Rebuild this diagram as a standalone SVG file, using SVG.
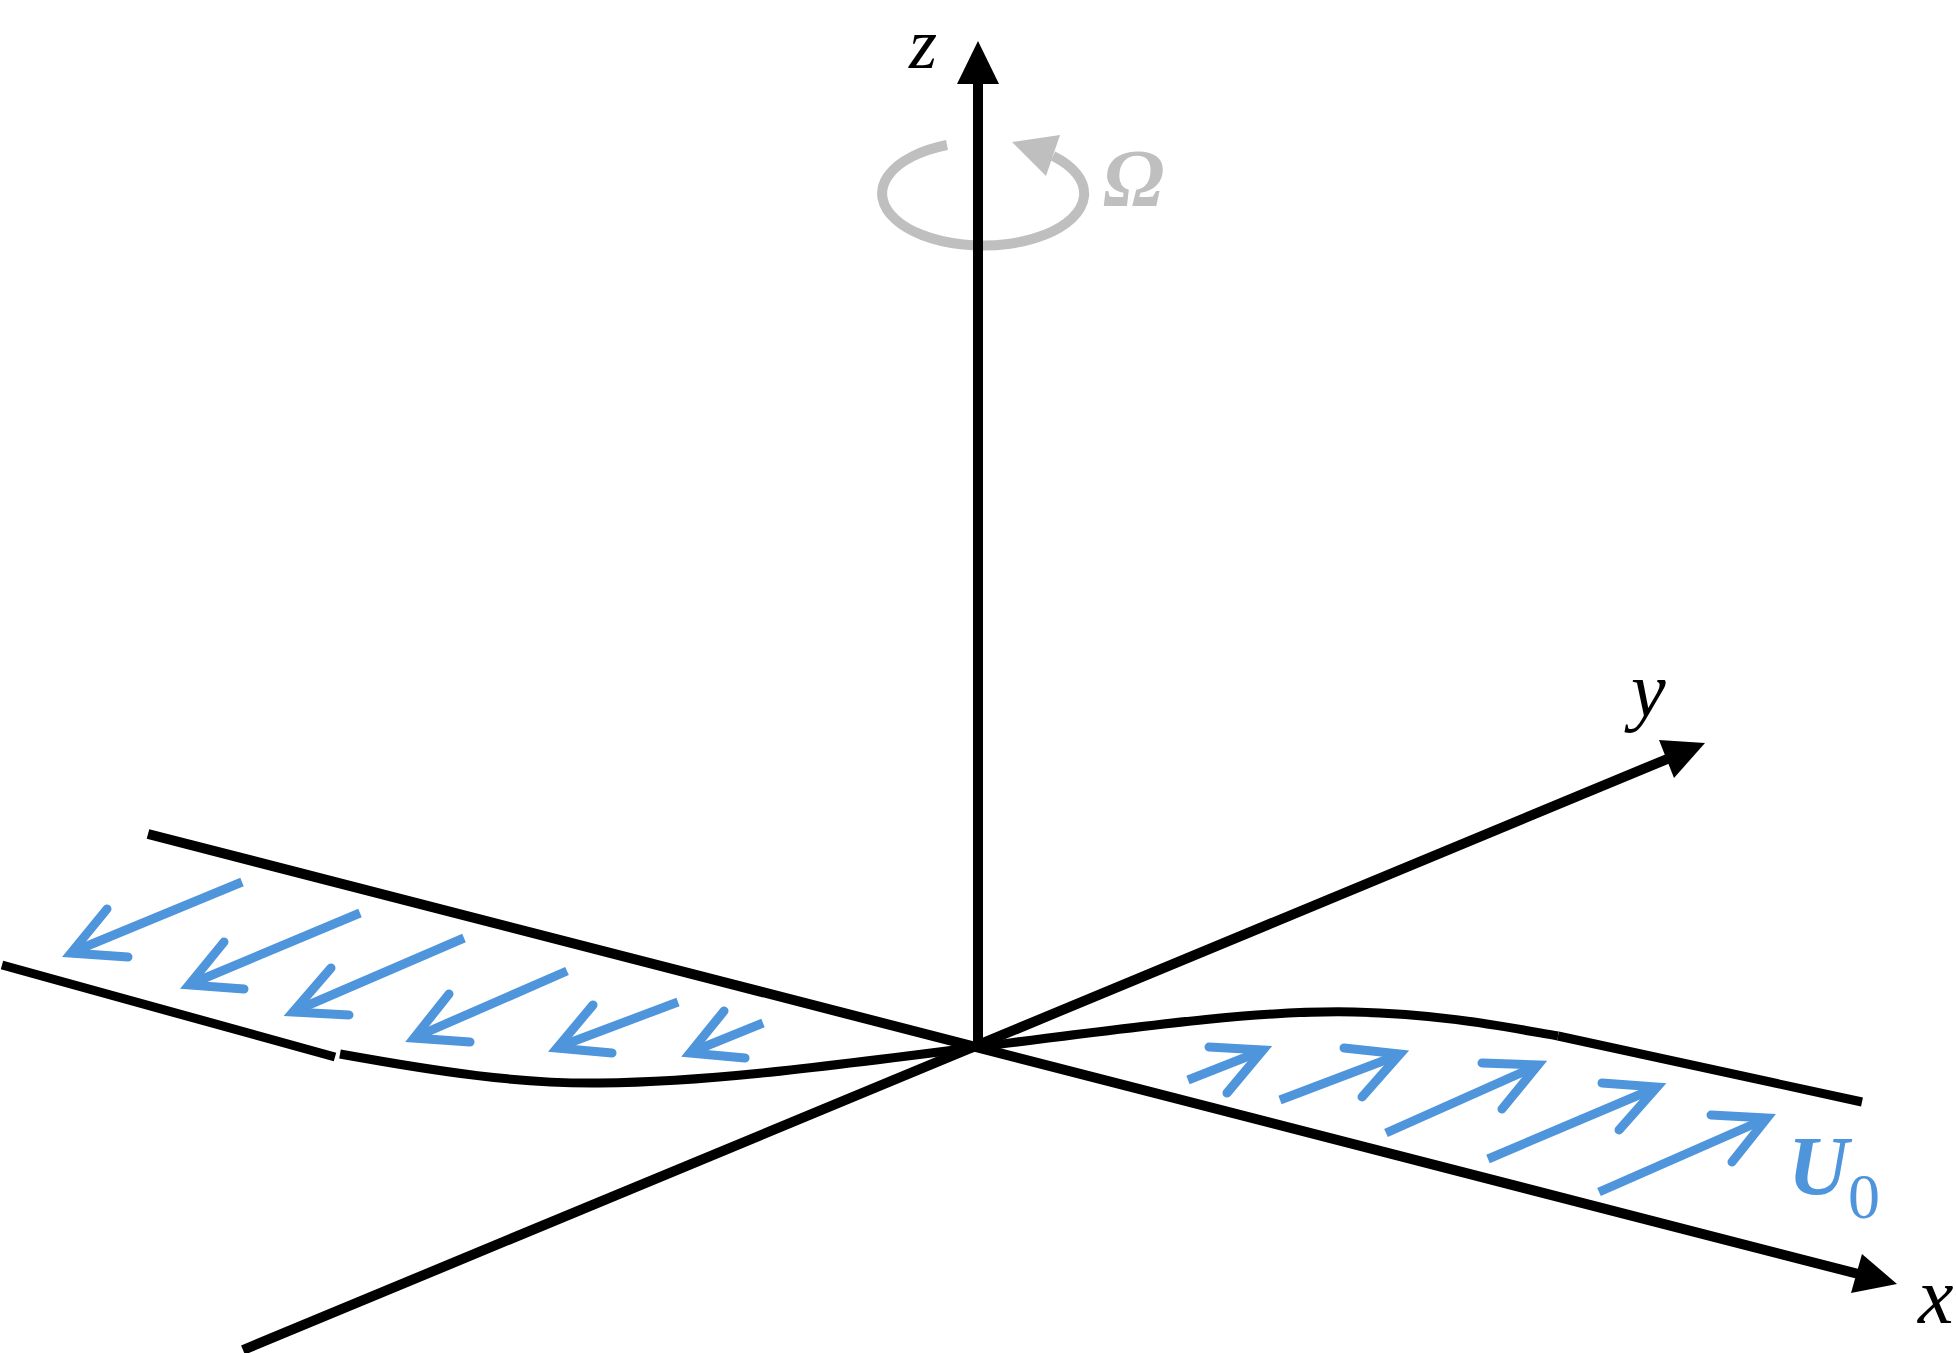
<svg xmlns="http://www.w3.org/2000/svg" width="1956" height="1353" viewBox="0 0 1956 1353">
<style>
.ax{stroke:#000;stroke-width:10;fill:none;stroke-linecap:butt}
.cv{stroke:#000;stroke-width:9;fill:none;stroke-linecap:butt}
.sh{stroke:#4f95db;stroke-width:9;fill:none;stroke-linecap:butt}
.hd{stroke:#4f95db;stroke-width:9;fill:none;stroke-linecap:round;stroke-linejoin:miter;stroke-miterlimit:10}
.lbl{font-family:"Liberation Serif","Times New Roman",serif;font-style:italic}
</style>
<rect width="1956" height="1353" fill="#fff"/>
<g id="rotation">
<path d="M947,145 A101 52 0 1 0 1053,156" fill="none" stroke="#bfbfbf" stroke-width="10"/>
<polygon points="1012,142 1060,135 1046,176" fill="#bfbfbf"/>
<text class="lbl" x="1103" y="206" font-size="82" font-weight="bold" fill="#bfbfbf">Ω</text>
</g>
<g id="connectors">
<line class="ax" x1="978" y1="1047" x2="978" y2="80"/>
<polygon points="978,41 957,84 999,84" fill="#000"/>
<line class="ax" x1="243" y1="1350" x2="1672" y2="757"/>
<polygon points="1705,743 1659,740 1674,778" fill="#000"/>
<line class="ax" x1="148" y1="834" x2="1870" y2="1277"/>
<polygon points="1897,1284 1862,1254 1851,1293" fill="#000"/>
<line class="cv" x1="2" y1="965" x2="335" y2="1057"/>
<path class="cv" d="M340,1054 C440,1072 520,1084 600,1083 C700,1082 800,1070 978,1047 C1150,1025 1260,1010 1354,1012 C1440,1014 1500,1026 1558,1036"/>
<line class="cv" x1="1558" y1="1036" x2="1862" y2="1102"/>
</g>
<g id="flow-left">
<line class="sh" x1="242" y1="882" x2="75" y2="951"/><polyline class="hd" points="107,909 71,953 128,957"/>
<line class="sh" x1="360" y1="913" x2="193" y2="983"/><polyline class="hd" points="224,942 189,985 244,989"/>
<line class="sh" x1="464" y1="938" x2="297" y2="1010"/><polyline class="hd" points="331,968 293,1012 349,1015"/>
<line class="sh" x1="567" y1="971" x2="418" y2="1036"/><polyline class="hd" points="449,994 414,1038 470,1042"/>
<line class="sh" x1="678" y1="1002" x2="561" y2="1046"/><polyline class="hd" points="593,1005 557,1048 612,1053"/>
<line class="sh" x1="763" y1="1023" x2="694" y2="1051"/><polyline class="hd" points="724,1011 690,1053 745,1058"/>
</g>
<g id="flow-right">
<line class="sh" x1="1188" y1="1080" x2="1259" y2="1052"/><polyline class="hd" points="1209,1047 1263,1050 1227,1093"/>
<line class="sh" x1="1280" y1="1100" x2="1396" y2="1056"/><polyline class="hd" points="1344,1048 1400,1054 1362,1097"/>
<line class="sh" x1="1386" y1="1133" x2="1534" y2="1067"/><polyline class="hd" points="1482,1063 1538,1065 1502,1109"/>
<line class="sh" x1="1488" y1="1159" x2="1653" y2="1089"/><polyline class="hd" points="1602,1083 1657,1087 1619,1130"/>
<line class="sh" x1="1599" y1="1192" x2="1763" y2="1120"/><polyline class="hd" points="1711,1115 1767,1118 1732,1162"/>
<text class="lbl" x="1788" y="1195" font-size="84" font-weight="bold" fill="#4f95db">U</text>
<text x="1848" y="1218" font-size="64" font-family="Liberation Serif,serif" fill="#4f95db">0</text>
</g>
<g id="axis-labels">
<text class="lbl" x="909" y="68" font-size="72">z</text>
<text class="lbl" x="1631" y="716" font-size="78">y</text>
<text class="lbl" x="1918" y="1323" font-size="80">x</text>
</g>
</svg>
